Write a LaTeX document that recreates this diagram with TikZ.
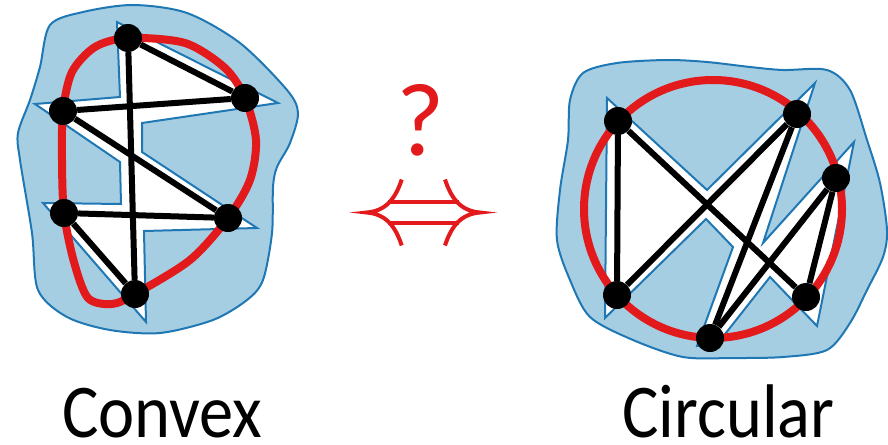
\documentclass[tikz,border=0pt]{standalone}
\usepackage{fontspec}
\setmainfont{Carlito}
\definecolor{blobfill}{RGB}{166,206,227}
\definecolor{blobline}{RGB}{31,120,180}
\definecolor{ringred}{RGB}{227,26,28}
\tikzset{
  blob/.style={draw=blobline,fill=blobfill,line width=2pt},
  face/.style={draw=blobline,fill=white,line width=2pt,line join=miter},
  ring/.style={draw=ringred,line width=8pt},
  edge/.style={draw=black,line width=6pt},
  vtx/.style={circle,fill=black,inner sep=0pt,minimum size=28pt},
  lbl/.style={font=\fontsize{76}{78}\selectfont,anchor=base,inner sep=0pt}
}

\begin{document}
\begin{tikzpicture}[x=1pt,y=-1pt]
  \useasboundingbox (0,0) rectangle (888,444);
  % convex drawing
  \draw[blob] plot[smooth cycle] coordinates {(50,25) (83,12) (133,5) (187,13) (240,43) (287,90) (298,113) (290,143) (277,167) (273,187) (272,233) (263,280) (247,300) (213,320) (160,333) (110,330) (67,317) (38,290) (32,233) (20,160) (18,133) (30,100) (40,67)};
  \draw[face] (117,22) -- (278,103) -- (142,123) -- (142,152) -- (257,228) -- (144,231) -- (146,322) -- (43,203) -- (121,204) -- (120,162) -- (35,104) -- (120,97) -- cycle;
  \draw[ring] plot[smooth cycle] coordinates {(128,38) (185,43) (225,68) (245,98) (256,140) (250,180) (228,218) (190,260) (135,294) (112,304) (88,298) (74,262) (64,213) (62,160) (63,111) (72,72) (95,47)};
  \node[vtx] (c1) at (128,38) {};
  \node[vtx] (c2) at (245,98) {};
  \node[vtx] (c3) at (228,218) {};
  \node[vtx] (c4) at (135,294) {};
  \node[vtx] (c5) at (64,213) {};
  \node[vtx] (c6) at (63,111) {};
  \draw[edge] (c1)--(c2);\draw[edge] (c1)--(c4);\draw[edge] (c6)--(c2);\draw[edge] (c6)--(c3);\draw[edge] (c5)--(c3);\draw[edge] (c5)--(c4);

  % circular drawing
  \draw[blob] plot[smooth cycle] coordinates {(583,73) (617,63) (667,60) (707,62) (750,67) (783,70) (827,70) (850,90) (867,140) (880,183) (887,230) (883,257) (867,290) (850,323) (827,350) (783,357) (733,358) (683,357) (633,340) (590,317) (570,280) (557,240) (560,190) (568,140) (570,100)};
  \draw[face] (607,98) -- (707,190) -- (815,83) -- (763,243) -- (854,142) -- (817,326) -- (770,277) -- (718,343) -- (697,346) -- (733,247) -- (706,219) -- (605,318) -- cycle;
  \coordinate (mid) at (713,209);
  \draw[ring] (mid) circle[radius=129];
  \node[vtx] (r1) at (618,121) {};
  \node[vtx] (r2) at (797,114) {};
  \node[vtx] (r3) at (836,178) {};
  \node[vtx] (r4) at (806,297) {};
  \node[vtx] (r5) at (710,338) {};
  \node[vtx] (r6) at (617,295) {};
  \draw[edge] (r1)--(r6);\draw[edge] (r1)--(r4);\draw[edge] (r2)--(r6);\draw[edge] (r2)--(r5);\draw[edge] (r3)--(r5);\draw[edge] (r3)--(r4);

  % equivalence sign
  \node[text=ringred,font=\fontsize{104}{110}\selectfont,anchor=base] (q) at (421,155) {?};
  \draw[ringred,line width=4pt] (388,201.7) -- (459,201.7) (388,223.3) -- (459,223.3);
  \draw[ringred,line width=4pt] (401.7,179.5) .. controls (395,200) and (385,211) .. (366.7,212.5) .. controls (385,214) and (395,225) .. (401.7,245.5);
  \draw[ringred,line width=4pt] (445,179.5) .. controls (451.7,200) and (461.7,211) .. (480,212.5) .. controls (461.7,214) and (451.7,225) .. (445,245.5);

  \node[lbl] (convex) at (162.5,437) {\scalebox{0.9}[1]{Convex}};
  \node[lbl] (circular) at (728.5,437) {\scalebox{0.9}[1]{Circular}};
\end{tikzpicture}
\end{document}
